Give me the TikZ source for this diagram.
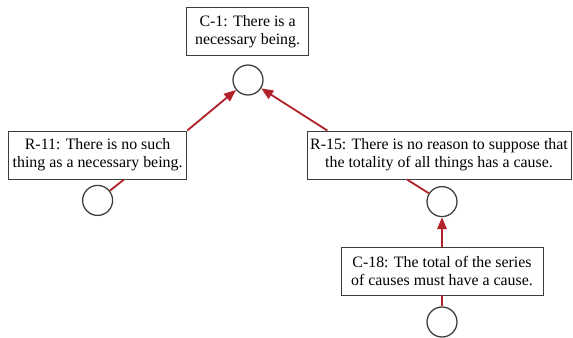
\documentclass[tikz,border=0pt]{standalone}
\usepackage{fontspec}
\setmainfont{Liberation Serif}
\usetikzlibrary{arrows.meta}
\definecolor{argred}{RGB}{178,34,42}
\definecolor{boxgray}{RGB}{60,60,60}
\begin{document}
\begin{tikzpicture}
\tikzstyle{claim}=[draw=boxgray, line width=0.7pt, rectangle, minimum height=1.2cm, align=center, inner sep=0pt, font=\fontsize{11.3}{12.8}\selectfont]
\tikzstyle{hole}=[draw=boxgray, line width=0.9pt, circle, minimum size=0.75cm, inner sep=0pt]
\tikzstyle{support}=[draw=argred, line width=1.3pt, -{Triangle[length=3mm,width=2.4mm]}]
\tikzstyle{link}=[draw=argred, line width=1.3pt]

\useasboundingbox (0,0) rectangle (14.325,-8.425);

% Define claims
\node[claim, minimum width=3.04cm] (c1) at (6.19,-0.79) {C-1: There is a\\necessary being.};
\node[claim, minimum width=4.46cm] (r11) at (2.44,-3.875) {R-11: There is no such\\thing as a necessary being.};
\node[claim, minimum width=6.6cm] (r15) at (10.975,-3.875) {R-15: There is no reason to suppose that\\the totality of all things has a cause.};
\node[claim, minimum width=5.05cm] (c18) at (11.05,-6.775) {C-18: The total of the series\\of causes must have a cause.};

% Define joints
\node[hole] (j1) at (6.2,-2.0) {};
\node[hole] (j11) at (2.44,-5.01) {};
\node[hole] (j15) at (11.05,-5.04) {};
\node[hole] (j18) at (11.05,-8.05) {};

% Arrows
\draw[support] (r11.north east) -- (j1);
\draw[support] ([xshift=0.52cm]r15.north west) -- (j1);
\draw[support] (c18) -- (j15);

% Links
\draw[link] (j11) -- ([xshift=0.66cm]r11.south);
\draw[link] (j15) -- ([xshift=-0.8cm]r15.south);
\draw[link] (j18) -- (c18);
\end{tikzpicture}
\end{document}
